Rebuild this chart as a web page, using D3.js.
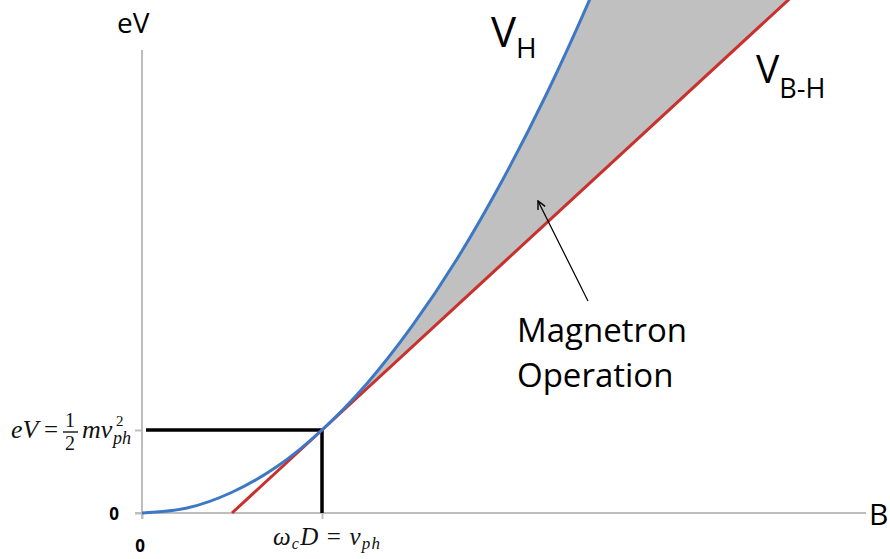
<!DOCTYPE html>
<html>
<head>
<meta charset="utf-8">
<script src="https://cdn.jsdelivr.net/npm/d3@7"></script>
<style>
  html, body { margin: 0; padding: 0; background: #fff; }
  svg { display: block; }
  .lbl { font-family: "Open Sans", "Liberation Sans", sans-serif; fill: #000; }
  .math { font-family: "Liberation Serif", "DejaVu Serif", serif; fill: #111; }
  .it { font-style: italic; }
</style>
</head>
<body>
<svg id="chart" width="890" height="559"></svg>
<script>
// Magnetic field B (normalised so the matching point is B = 1)
const bField      = [0, 0.25, 0.5, 0.75, 1, 1.25, 1.5, 1.75, 2, 2.25, 2.5, 2.6];
// Hull cutoff voltage V_H (normalised so eV = ½ m v_ph² is 1)
const hullVoltage = [0, 0.06, 0.25, 0.56, 1, 1.56, 2.25, 3.06, 4, 5.06, 6.25, 6.76];
// Buneman–Hartree threshold V_B-H, a straight line tangent to V_H at B = 1
const bhField     = [0.5, 1, 3.65];
const bhVoltage   = [0, 1, 6.3];
// Operating point where the two curves touch
const matchB = 1, matchV = 1;
// Axis tick labels
const xTickLabels = ["0"];
const yTickLabels = ["0"];

const svg = d3.select("#chart");

const x = d3.scaleLinear().domain([0, 4.022]).range([142, 866]);
const y = d3.scaleLinear().domain([0, 5.578]).range([513, 50]);

const hull = bField.map((b, i) => ({ b, v: hullVoltage[i] }));
const bh   = bhField.map((b, i) => ({ b, v: bhVoltage[i] }));

// Shaded magnetron operating region between V_H and V_B-H (above the match point)
const upperHull = hull.filter(d => d.b >= matchB);
const region = upperHull.concat(bh.filter(d => d.b >= matchB).reverse());
svg.append("path")
  .attr("d", d3.line().x(d => x(d.b)).y(d => y(d.v)).curve(d3.curveLinearClosed)(region))
  .attr("fill", "#c0c0c0");

// Axes (plain lines with a few short ticks)
const axisColor = "#bdbdbd";
const xAxis = d3.axisBottom(x).tickValues([0, matchB]).tickFormat("").tickSize(6).tickSizeOuter(0);
const gx = svg.append("g").attr("transform", `translate(0,${y(0)})`).call(xAxis);
const yAxis = d3.axisLeft(y).tickValues([0, matchV]).tickFormat("").tickSize(7).tickSizeOuter(0);
const gy = svg.append("g").attr("transform", `translate(${x(0)},0)`).call(yAxis);
[gx, gy].forEach(g => {
  g.select(".domain").attr("stroke", axisColor).attr("stroke-width", 2);
  g.selectAll(".tick line").attr("stroke", axisColor).attr("stroke-width", 2);
});
gx.select(".domain").attr("d", `M${x(0) - 7},0H${x.range()[1]}`);
gy.select(".domain").attr("d", `M0,${y(0) + 6}V${y.range()[1]}`);

// Matching-point guide lines
svg.append("path")
  .attr("d", `M${x(0) + 4},${y(matchV)}H${x(matchB)}V${y(0)}`)
  .attr("fill", "none").attr("stroke", "#000").attr("stroke-width", 3.5);

// V_B-H line
svg.append("path")
  .attr("d", d3.line().x(d => x(d.b)).y(d => y(d.v))(bh))
  .attr("fill", "none").attr("stroke", "#c8312e").attr("stroke-width", 3);

// V_H parabola
svg.append("path")
  .attr("d", d3.line().x(d => x(d.b)).y(d => y(d.v)).curve(d3.curveMonotoneX)(hull))
  .attr("fill", "none").attr("stroke", "#3c78c6").attr("stroke-width", 3);

// Arrow pointing into the shaded region
svg.append("defs").append("marker")
  .attr("id", "openArrow").attr("viewBox", "0 0 10 10")
  .attr("refX", 9).attr("refY", 5).attr("markerWidth", 10).attr("markerHeight", 10)
  .attr("markerUnits", "userSpaceOnUse").attr("orient", "auto")
  .append("path").attr("d", "M1,1L9,5L1,9").attr("fill", "none").attr("stroke", "#000").attr("stroke-width", 1.4);
svg.append("line")
  .attr("x1", 588).attr("y1", 301).attr("x2", 538).attr("y2", 201)
  .attr("stroke", "#000").attr("stroke-width", 1.2).attr("marker-end", "url(#openArrow)");

// Text labels
svg.append("text").attr("class", "lbl").attr("x", 117).attr("y", 33).attr("font-size", 28).text("eV");
svg.append("text").attr("class", "lbl").attr("x", 869).attr("y", 525).attr("font-size", 30).text("B");

const vh = svg.append("text").attr("class", "lbl").attr("x", 491).attr("y", 47).attr("font-size", 42);
vh.append("tspan").text("V");
vh.append("tspan").attr("font-size", 28).attr("dy", 11).text("H");

const vbh = svg.append("text").attr("class", "lbl").attr("x", 756).attr("y", 83).attr("font-size", 39);
vbh.append("tspan").text("V");
vbh.append("tspan").attr("font-size", 27).attr("dy", 15).text("B-H");

svg.append("text").attr("class", "lbl").attr("x", 517).attr("y", 342).attr("font-size", 33)
  .attr("font-weight", 500).text("Magnetron");
svg.append("text").attr("class", "lbl").attr("x", 517).attr("y", 387).attr("font-size", 33)
  .attr("font-weight", 500).text("Operation");

// Zero tick labels
svg.append("text").attr("class", "lbl").attr("x", 114).attr("y", 520)
  .attr("text-anchor", "middle").attr("font-size", 17).attr("font-weight", "bold").text(yTickLabels[0]);
svg.append("text").attr("class", "lbl").attr("x", 140).attr("y", 552)
  .attr("text-anchor", "middle").attr("font-size", 17).attr("font-weight", "bold").text(xTickLabels[0]);

// eV = ½ m v_ph²
const eq = svg.append("g");
eq.append("text").attr("class", "math it").attr("x", 11).attr("y", 438).attr("font-size", 26).text("eV");
eq.append("text").attr("class", "math").attr("x", 44).attr("y", 438).attr("font-size", 25).text("=");
eq.append("text").attr("class", "math").attr("x", 70).attr("y", 427).attr("font-size", 20).attr("text-anchor", "middle").text("1");
eq.append("line").attr("x1", 63).attr("x2", 78).attr("y1", 432).attr("y2", 432).attr("stroke", "#000").attr("stroke-width", 1.3);
eq.append("text").attr("class", "math").attr("x", 70).attr("y", 450).attr("font-size", 20).attr("text-anchor", "middle").text("2");
eq.append("text").attr("class", "math it").attr("x", 82).attr("y", 438).attr("font-size", 26).text("mv");
eq.append("text").attr("class", "math").attr("x", 116).attr("y", 426).attr("font-size", 15).text("2");
eq.append("text").attr("class", "math it").attr("x", 113).attr("y", 444).attr("font-size", 18).text("ph");

// ω_c D = v_ph
const wq = svg.append("text").attr("class", "math").attr("x", 273).attr("y", 545).attr("font-size", 25)
  .attr("textLength", 107).attr("lengthAdjust", "spacing");
wq.append("tspan").attr("class", "it").text("ω");
wq.append("tspan").attr("class", "it").attr("font-size", 16).attr("dy", 4).text("c");
wq.append("tspan").attr("class", "it").attr("dy", -4).text("D");
wq.append("tspan").text(" = ");
wq.append("tspan").attr("class", "it").text("v");
wq.append("tspan").attr("class", "it").attr("font-size", 17).attr("dy", 4).text("ph");
</script>
</body>
</html>
